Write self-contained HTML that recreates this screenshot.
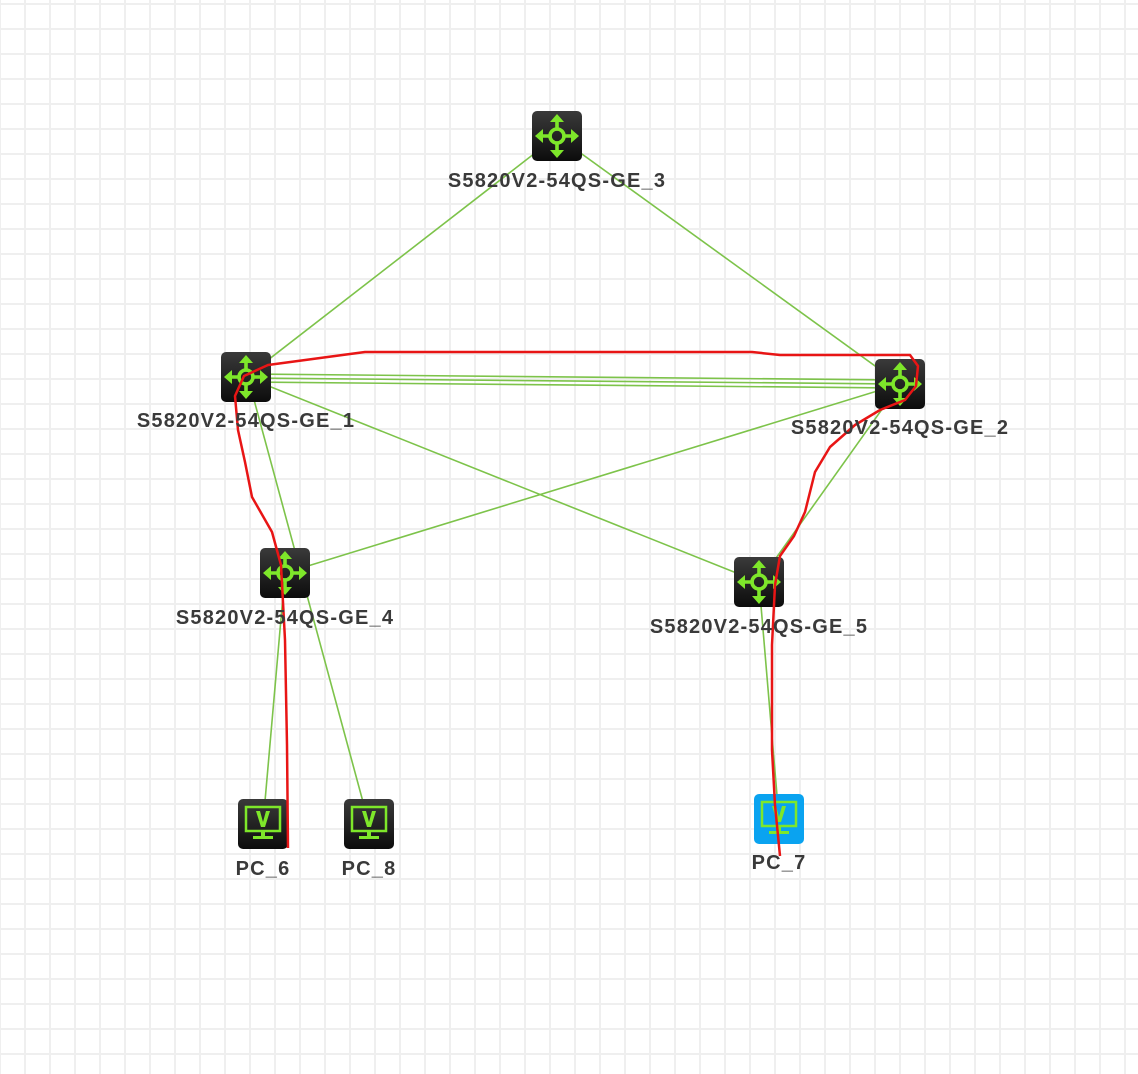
<!DOCTYPE html>
<html><head><meta charset="utf-8"><style>
html,body{margin:0;padding:0;}
body{width:1138px;height:1074px;overflow:hidden;background-color:#fff;
background-image:linear-gradient(to right,#efefef 2px,transparent 2px),linear-gradient(to bottom,#efefef 2px,transparent 2px);
background-size:25px 25px;background-position:24px 3px;}
svg{position:absolute;left:0;top:0;}
text{font-family:"Liberation Sans",sans-serif;font-weight:bold;font-size:20px;letter-spacing:1.2px;fill:#3a3a3a;text-anchor:middle;}
</style></head><body>
<svg width="1138" height="1074" viewBox="0 0 1138 1074">
<defs>
<linearGradient id="g" x1="0" y1="0" x2="0" y2="1"><stop offset="0" stop-color="#3a3a3a"/><stop offset="1" stop-color="#0c0c0c"/></linearGradient>
<g id="sw">
<rect x="-25" y="-25" width="50" height="50" rx="5" fill="url(#g)"/>
<g stroke="#7ee72a" stroke-width="3.6" fill="none" stroke-linecap="round">
<circle r="7"/>
<line x1="0" y1="-7" x2="0" y2="-16"/><line x1="0" y1="7" x2="0" y2="16"/>
<line x1="-7" y1="0" x2="-16" y2="0"/><line x1="7" y1="0" x2="16" y2="0"/>
</g>
<g fill="#7ee72a">
<polygon points="0,-22 -7,-14 7,-14"/><polygon points="0,22 -7,14 7,14"/>
<polygon points="-22,0 -14,-7 -14,7"/><polygon points="22,0 14,-7 14,7"/>
</g>
</g>
<g id="pcin">
<g stroke="#7ee72a" stroke-width="2.5" fill="none"><rect x="-17" y="-17" width="34" height="24"/></g>
<polygon points="-7,-13 -3,-13 0,-2 3,-13 7,-13 2,3 -2,3" fill="#7ee72a"/>
<rect x="-2" y="7" width="4" height="5" fill="#7ee72a"/>
<rect x="-10" y="12" width="20" height="3" fill="#7ee72a"/>
</g>
</defs>
<g stroke="#7dc34a" stroke-width="1.6">
<line x1="557" y1="136" x2="246" y2="377"/>
<line x1="557" y1="136" x2="900" y2="384"/>
<line x1="246" y1="374" x2="900" y2="380"/>
<line x1="246" y1="378" x2="900" y2="384"/>
<line x1="246" y1="382" x2="900" y2="388"/>
<line x1="246" y1="377" x2="759" y2="582"/>
<line x1="250" y1="385" x2="369" y2="824"/>
<line x1="900" y1="384" x2="285" y2="573"/>
<line x1="900" y1="384" x2="759" y2="582"/>
<line x1="285" y1="573" x2="263" y2="824"/>
<line x1="759" y1="582" x2="779" y2="819"/>
</g>
<use href="#sw" x="557" y="136"/>
<use href="#sw" x="246" y="377"/>
<use href="#sw" x="900" y="384"/>
<use href="#sw" x="285" y="573"/>
<use href="#sw" x="759" y="582"/>
<rect x="238" y="799" width="50" height="50" rx="5" fill="url(#g)"/><use href="#pcin" x="263" y="824"/>
<rect x="344" y="799" width="50" height="50" rx="5" fill="url(#g)"/><use href="#pcin" x="369" y="824"/>
<rect x="754" y="794" width="50" height="50" rx="5" fill="#0aa3f0"/><use href="#pcin" x="779" y="819"/>
<path d="M288,848 L287,745 L285,640 L281,565 L272,532 L252,497 L245,462 L238,430 L235,396 L244,376 L268,365 L335,356 L365,352 L752,352 L780,355 L910,355 L918,366 L916,386 L905,400 L880,410 L855,425 L830,447 L815,472 L805,512 L794,536 L780,556 L775,585 L772,645 L772,750 L775,805 L780,856" fill="none" stroke="#e81515" stroke-width="2.5" stroke-linejoin="round"/>
<text x="557" y="187">S5820V2-54QS-GE_3</text>
<text x="246" y="427">S5820V2-54QS-GE_1</text>
<text x="900" y="434">S5820V2-54QS-GE_2</text>
<text x="285" y="624">S5820V2-54QS-GE_4</text>
<text x="759" y="633">S5820V2-54QS-GE_5</text>
<text x="263" y="875">PC_6</text>
<text x="369" y="875">PC_8</text>
<text x="779" y="869">PC_7</text>
</svg>
</body></html>
